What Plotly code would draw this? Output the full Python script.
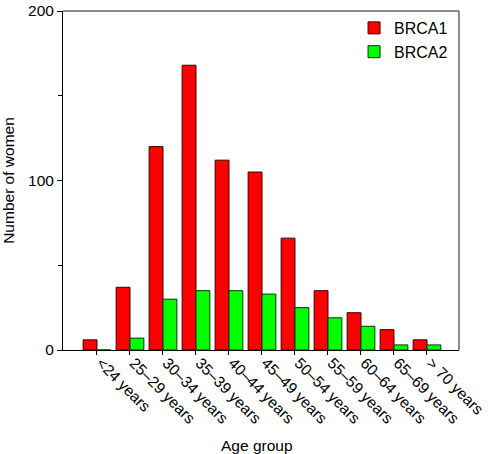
import plotly.graph_objects as go

categories = ["<24 years", "25\u201329 years", "30\u201334 years", "35\u201339 years",
              "40\u201344 years", "45\u201349 years", "50\u201354 years", "55\u201359 years",
              "60\u201364 years", "65\u201369 years", "> 70 years"]
brca1 = [6, 37, 120, 168, 112, 105, 66, 35, 22, 12, 6]
brca2 = [0, 7, 30, 35, 35, 33, 25, 19, 14, 3, 3]

x = list(range(len(categories)))
font = "Liberation Sans, Arial, Helvetica, sans-serif"

fig = go.Figure()
fig.add_trace(go.Bar(x=x, y=brca1, name="BRCA1",
                     marker=dict(color="#ff0000", line=dict(color="#3a0000", width=1))))
fig.add_trace(go.Bar(x=x, y=brca2, name="BRCA2",
                     marker=dict(color="#00ff00", line=dict(color="#003a00", width=1))))

fig.update_layout(
    width=492, height=454,
    margin=dict(l=63, r=33, t=11, b=104),
    paper_bgcolor="white", plot_bgcolor="white",
    barmode="group", bargap=0.16, bargroupgap=0,
    font=dict(family=font, size=15.5, color="black"),
    legend=dict(x=0.735, y=1.0, xanchor="left", yanchor="top",
                bgcolor="rgba(0,0,0,0)", font=dict(size=16), tracegroupgap=0,
                itemwidth=30),
    showlegend=True,
)
fig.update_xaxes(
    range=[-1.03, 10.97], tickmode="array", tickvals=x, ticktext=categories,
    tickangle=45, ticks="outside", ticklen=4, tickcolor="black",
    showline=True, linecolor="black", linewidth=1, mirror=False,
    showgrid=False, zeroline=False, automargin=False,
    ticklabelshift=4, ticklabelstandoff=-7,
    tickfont=dict(size=15.5),
)
fig.update_yaxes(
    range=[0, 200], tickvals=[0, 100, 200], ticks="outside", ticklen=5,
    tickcolor="black", showline=True, linecolor="black", linewidth=1,
    showgrid=False, zeroline=False, automargin=False,
    minor=dict(tickvals=[50, 150], ticks="outside", ticklen=4, tickcolor="black"),
    title=dict(text="Number of women", standoff=14, font=dict(size=15.5)),
    tickfont=dict(size=15.5),
)
fig.add_annotation(text="Age group", xref="paper", yref="paper", x=0.49, y=0,
                   xanchor="center", yanchor="middle", yshift=-95, showarrow=False,
                   font=dict(size=15.5))
# gray frame on top and right
fig.add_shape(type="line", xref="paper", yref="paper", x0=0, x1=1, y0=1, y1=1,
              line=dict(color="#666666", width=1.5))
fig.add_shape(type="line", xref="paper", yref="paper", x0=1, x1=1, y0=0, y1=1,
              line=dict(color="#666666", width=1.5))

fig.write_html("out.html", config={"displayModeBar": False},
               post_script="document.body.style.margin='0';document.body.style.overflow='hidden';")
